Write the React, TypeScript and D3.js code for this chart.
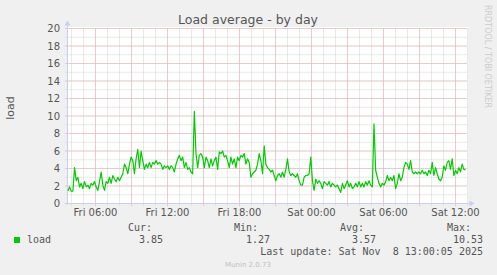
import React from "react";
import * as d3 from "d3";

const W = 497;
const H = 275;

const TITLE = "Load average - by day";
const Y_LABEL = "load";
const SERIES_NAME = "load";
const LEGEND_HEADERS = ["Cur:", "Min:", "Avg:", "Max:"];
const LEGEND_VALUES = ["3.85", "1.27", "3.57", "10.53"];
const LAST_UPDATE = "Last update: Sat Nov  8 13:00:05 2025";
const FOOTER = "Munin 2.0.73";
const WATERMARK = "RRDTOOL / TOBI OETIKER";

const Y_TICKS = [0, 2, 4, 6, 8, 10, 12, 14, 16, 18, 20];

const START = Date.UTC(2025, 10, 7, 3, 40);
const END = Date.UTC(2025, 10, 8, 13, 0);
const FIRST_SAMPLE = Date.UTC(2025, 10, 7, 3, 42);
const LAST_SAMPLE = Date.UTC(2025, 10, 8, 12, 50);

const LOAD_VALUES = [
  1.43, 1.9, 1.4, 1.4, 4.1, 2.6, 3.0, 1.9, 2.3, 1.7, 2.5, 1.9, 2.1, 1.7, 2.3, 2.1, 2.5, 1.9, 1.5, 2.5,
  3.6, 2.1, 1.5, 2.5, 2.3, 3.0, 2.3, 3.2, 2.8, 2.5, 3.0, 2.6, 3.0, 3.4, 4.5, 4.1, 3.4, 4.5, 5.3, 4.9,
  3.4, 5.1, 6.2, 4.1, 6.0, 4.9, 3.9, 4.5, 4.1, 4.7, 4.1, 4.7, 4.5, 4.9, 4.5, 4.7, 4.5, 3.9, 4.3, 4.1,
  4.3, 3.9, 4.3, 4.1, 3.6, 4.5, 5.1, 5.5, 4.9, 5.3, 4.1, 4.7, 3.9, 4.1, 3.6, 3.4, 10.53, 5.7, 4.1, 5.5,
  5.7, 5.3, 4.1, 5.3, 4.9, 4.1, 5.1, 4.3, 4.9, 5.3, 3.9, 5.9, 5.7, 6.0, 5.3, 5.5, 4.9, 4.1, 5.3, 4.5,
  5.1, 4.1, 5.3, 4.9, 5.5, 5.3, 5.7, 4.5, 5.1,
  4.7, 3.0, 3.4, 3.6, 3.8, 4.5, 5.7, 4.9, 3.4, 6.6, 4.5, 4.1, 3.9, 3.6, 3.8, 3.2, 2.6, 3.2, 3.4, 3.0,
  3.6, 3.0, 3.9, 5.1, 3.6, 3.2, 3.4, 3.2, 3.0, 3.4, 2.6, 2.1, 2.1, 3.0, 3.2, 3.2, 3.4, 5.3, 2.6, 1.5,
  2.8, 2.3, 2.6, 2.3, 1.7, 2.5, 2.3, 2.1, 2.5, 1.9, 2.3, 2.1, 1.9, 2.1, 1.7, 1.27, 2.3, 1.7, 2.1, 2.6,
  1.9, 2.3, 1.7, 1.9, 2.3, 1.9, 2.5, 1.9, 2.3, 1.9, 2.5, 2.1, 2.6, 2.1, 1.9, 9.1, 3.8, 3.0, 2.3, 1.9,
  2.3, 2.1, 2.5, 3.2, 2.6, 3.0, 2.6, 3.2, 1.7, 2.3, 3.4, 2.6, 3.0, 4.1, 4.7, 4.5, 3.9, 4.9, 3.6, 3.4,
  3.6, 3.4, 3.6, 3.4, 3.8, 3.4, 3.6, 3.2, 3.8, 3.4, 4.7, 3.2, 4.1, 3.4, 2.8, 2.6, 3.0, 4.3, 3.8, 4.7,
  4.9, 3.9, 5.1, 3.2, 3.8, 3.4, 4.1, 3.6, 4.5, 3.9, 3.85,
];

const FONT = "'DejaVu Sans', sans-serif";
const MONO = "'DejaVu Sans Mono', monospace";

export default function App() {
  const x = d3.scaleUtc().domain([START, END]).range([67.5, 467.5]);
  const y = d3.scaleLinear().domain([0, 20]).range([203.5, 28.5]);
  const idx = d3.scaleLinear().domain([0, LOAD_VALUES.length - 1]).range([FIRST_SAMPLE, LAST_SAMPLE]);

  const line = d3
    .line<number>()
    .x((_, i) => x(idx(i)))
    .y((d) => y(d));

  const hourTicks = x.ticks(d3.utcHour.every(1)!);
  const majorTicks = x.ticks(d3.utcHour.every(3)!);
  const labelTicks = x.ticks(d3.utcHour.every(6)!);
  const minorY = d3.range(0, 21, 1);
  const fmt = d3.utcFormat("%a %H:%M");

  const x0 = x.range()[0];
  const x1 = x.range()[1];
  const yTop = y(20);
  const yBot = y(0);
  const axisColor = "#c8cff0";
  const minorColor = "#d2d2d2";
  const majorColor = "#e8acac";
  const textColor = "#555";

  const headerX = [128, 234, 340, 447];
  const valueRight = [163, 270, 376, 483];

  return (
    <svg
      width={W}
      height={H}
      style={{ position: "absolute", left: 0, top: 0, background: "#f0f0f0" }}
    >
      <rect x={0} y={0} width={W} height={H} fill="#f0f0f0" />
      <rect x={67} y={27} width={401} height={177} fill="#ffffff" />

      {/* minor grid */}
      {minorY.map((v) => (
        <line key={"mh" + v} x1={x0 - 2} x2={x1} y1={y(v)} y2={y(v)} stroke={minorColor} strokeDasharray="1,1" />
      ))}
      {hourTicks.map((t) => (
        <line key={"mv" + +t} x1={x(t)} x2={x(t)} y1={yTop} y2={yBot + 2} stroke={minorColor} strokeDasharray="1,1" />
      ))}
      {/* major grid */}
      {Y_TICKS.map((v) => (
        <line key={"Mh" + v} x1={x0 - 2} x2={x1} y1={y(v)} y2={y(v)} stroke={majorColor} strokeDasharray="1,1" />
      ))}
      {majorTicks.map((t) => (
        <line key={"Mv" + +t} x1={x(t)} x2={x(t)} y1={yTop} y2={yBot + 2} stroke={majorColor} strokeDasharray="1,1" />
      ))}

      {/* axes */}
      <line x1={x0} x2={x0} y1={yBot + 1} y2={yTop - 4} stroke={axisColor} />
      <line x1={x0 - 1} x2={x1 + 3} y1={yBot} y2={yBot} stroke={axisColor} />
      <path d={`M${x0 - 3},${yTop - 3} L${x0 + 3},${yTop - 3} L${x0},${yTop - 8} Z`} fill={axisColor} />
      <path d={`M${x1 + 2},${yBot - 3} L${x1 + 2},${yBot + 3} L${x1 + 7},${yBot} Z`} fill={axisColor} />

      {/* data */}
      <path d={line(LOAD_VALUES) || ""} fill="none" stroke="#00cc00" strokeWidth={1.2} strokeLinejoin="round" />

      {/* y labels */}
      {Y_TICKS.map((v) => (
        <text key={"yl" + v} x={60} y={y(v) + 3.5} textAnchor="end" fontFamily={FONT} fontSize={10} fill={textColor}>
          {v}
        </text>
      ))}
      {/* x labels */}
      {labelTicks.map((t) => (
        <text key={"xl" + +t} x={x(t)} y={216} textAnchor="middle" fontFamily={FONT} fontSize={10} fill={textColor}>
          {fmt(t)}
        </text>
      ))}

      <text x={248} y={24} textAnchor="middle" fontFamily={FONT} fontSize={12.5} fill={textColor}>
        {TITLE}
      </text>
      <text
        transform="translate(14,108) rotate(-90)"
        textAnchor="middle"
        fontFamily={FONT}
        fontSize={11}
        fill={textColor}
      >
        {Y_LABEL}
      </text>
      <text
        transform="translate(485,5) rotate(90)"
        textAnchor="start"
        fontFamily={FONT}
        fontSize={8}
        fill="#cccccc"
      >
        {WATERMARK}
      </text>

      {/* legend */}
      {LEGEND_HEADERS.map((h, i) => (
        <text key={"lh" + i} x={headerX[i]} y={231} fontFamily={MONO} fontSize={10} fill={textColor}>
          {h}
        </text>
      ))}
      <rect x={14} y={237} width={6} height={6} fill="#00cc00" />
      <text x={27} y={243} fontFamily={MONO} fontSize={10} fill={textColor}>
        {SERIES_NAME}
      </text>
      {LEGEND_VALUES.map((v, i) => (
        <text key={"lv" + i} x={valueRight[i]} y={243} textAnchor="end" fontFamily={MONO} fontSize={10} fill={textColor}>
          {v}
        </text>
      ))}
      <text x={483} y={255} textAnchor="end" fontFamily={MONO} fontSize={10} fill={textColor} style={{ whiteSpace: "pre" }} xmlSpace="preserve">
        {LAST_UPDATE}
      </text>
      <text x={248} y={267} textAnchor="middle" fontFamily={FONT} fontSize={7} fill="#c0c0c0">
        {FOOTER}
      </text>
    </svg>
  );
}
